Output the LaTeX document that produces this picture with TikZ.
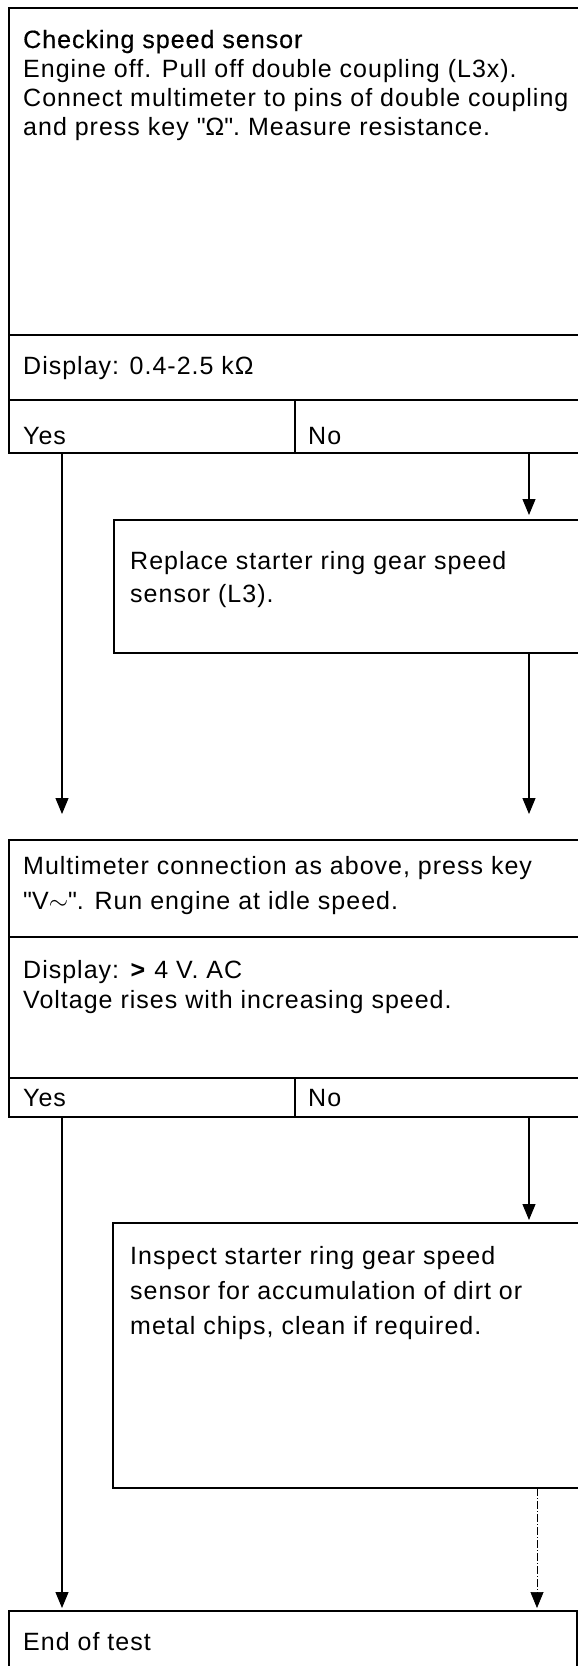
\documentclass[tikz,border=0pt]{standalone}
\usepackage{fontspec}
\setmainfont{Liberation Sans}[LetterSpace=4]
\newfontfamily\titlefont{Liberation Sans}[LetterSpace=4, FakeBold=0.5]
\usetikzlibrary{arrows.meta}
\tikzset{
  frame/.style={draw=black, line width=1.3pt, rectangle, inner sep=0pt, outer sep=0pt, anchor=north west},
  rule/.style={draw=black, line width=1.3pt},
  txt/.style={anchor=base west, inner sep=0pt, font=\fontsize{25}{29}\selectfont},
  conn/.style={draw=black, line width=1.1pt, -{Triangle[width=13pt,length=16pt]}},
  faint/.style={conn, line width=0.7pt, dash pattern=on 8pt off 2pt on 1pt off 2pt},
}
\begin{document}
\begin{tikzpicture}[x=1pt,y=-1pt]
\useasboundingbox (0,0) rectangle (578,1666);
\fill[white] (0,0) rectangle (578,1666);
\clip (0,0) rectangle (578,1666);

% first test box
\node[frame, minimum width=700pt, minimum height=445pt] (b1) at (9,8) {};
\draw[rule] (9,335) -- (620,335);
\draw[rule] (9,400) -- (620,400);
\draw[rule] (295,400) -- (295,453);
\node[txt, font=\fontsize{25}{29}\titlefont] (t1) at (23,48) {Checking speed sensor};
\node[txt] (t2) at (23,77) {Engine off. Pull off double coupling (L3x).};
\node[txt] (t3) at (23,106) {Connect multimeter to pins of double coupling};
\node[txt] (t4) at (23,135) {and press key \textquotedbl Ω\textquotedbl. Measure resistance.};
\node[txt] (d1) at (23,374) {Display: 0.4-2.5 kΩ};
\node[txt] (yes1) at (23,444) {Yes};
\node[txt] (no1) at (308,444) {No};

% replace box
\node[frame, minimum width=600pt, minimum height=133pt] (b2) at (114,520) {};
\node[txt] (r1) at (130,569) {Replace starter ring gear speed};
\node[txt] (r2) at (130,602) {sensor (L3).};

% second test box
\node[frame, minimum width=700pt, minimum height=277pt] (b3) at (9,840) {};
\draw[rule] (9,937) -- (620,937);
\draw[rule] (9,1078) -- (620,1078);
\draw[rule] (295,1078) -- (295,1117);
\node[txt] (m1) at (23,874) {Multimeter connection as above, press key};
\node[txt] (m2) at (23,909) {\textquotedbl V$\sim$\textquotedbl. Run engine at idle speed.};
\node[txt] (d2) at (23,978) {Display: \textbf{>} 4 V. AC};
\node[txt] (d3) at (23,1008) {Voltage rises with increasing speed.};
\node[txt] (yes2) at (23,1106) {Yes};
\node[txt] (no2) at (308,1106) {No};

% inspect box
\node[frame, minimum width=600pt, minimum height=265pt] (b4) at (113,1223) {};
\node[txt] (i1) at (130,1264) {Inspect starter ring gear speed};
\node[txt] (i2) at (130,1299) {sensor for accumulation of dirt or};
\node[txt] (i3) at (130,1334) {metal chips, clean if required.};

% end box
\node[frame, minimum width=568pt, minimum height=120pt] (b5) at (9,1611) {};
\node[txt] (e1) at (23,1650) {End of test};

% connectors
\coordinate (yA) at (62,453);
\coordinate (nA) at (529,453);
\coordinate (yB) at (62,1117);
\coordinate (nB) at (529,1117);
\coordinate (iC) at (537,1488);
\draw[conn, shorten >=5pt] (nA) -- (nA |- b2.north);
\draw[conn, shorten >=26pt] (nA |- b2.south) -- (nA |- b3.north);
\draw[conn, shorten >=26pt] (yA) -- (yA |- b3.north);
\draw[conn, shorten >=3pt] (nB) -- (nB |- b4.north);
\draw[conn, shorten >=3pt] (yB) -- (yB |- b5.north);
\draw[faint, shorten >=3pt] (iC) -- (iC |- b5.north);
\end{tikzpicture}
\end{document}
